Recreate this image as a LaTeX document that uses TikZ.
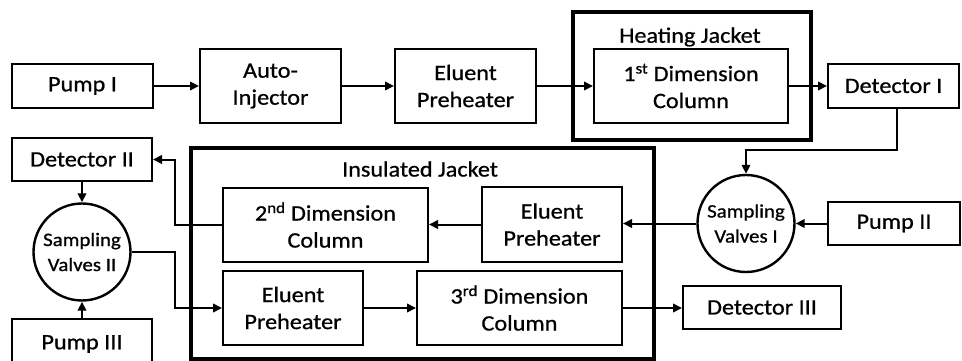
\documentclass[tikz,border=0pt]{standalone}
\usepackage{fontspec}
\setmainfont{Carlito}[FakeStretch=1.1,FakeBold=0.8]
\usetikzlibrary{arrows.meta}
\begin{document}
\begin{tikzpicture}[x=1pt,y=-1pt,
  box/.style={draw, line width=2pt, inner sep=0pt, align=center,
    font=\fontsize{22}{27}\selectfont},
  valve/.style={draw, circle, line width=2.4pt, inner sep=0pt, minimum size=97pt,
    align=center, font=\fontsize{19}{25}\selectfont},
  jacket/.style={draw, line width=3.8pt},
  jlabel/.style={font=\fontsize{22}{27}\selectfont, inner sep=0pt},
  arr/.style={line width=2pt, -{Triangle[length=9pt,width=8.5pt]}}]
\useasboundingbox (0,0) rectangle (962,361);
% jackets
\draw[jacket] (573,12) rectangle (811,140);
\node[jlabel] (hjl) at (690,37) {Heating Jacket};
\draw[jacket] (191,148) rectangle (654,359);
\node[jlabel] (ijl) at (420,169) {Insulated Jacket};
% top row
\node[box, minimum width=141pt, minimum height=44pt] (pump1) at (82.5,86) {Pump I};
\node[box, minimum width=141pt, minimum height=74pt] (inj) at (270.5,86) {Auto-\\Injector};
\node[box, minimum width=141pt, minimum height=74pt] (ep1) at (465.5,86) {Eluent\\Preheater};
\node[box, minimum width=194pt, minimum height=74pt] (dim1) at (691,86) {1\textsuperscript{st} Dimension\\Column};
\node[box, minimum width=131pt, minimum height=44pt] (det1) at (893.5,86) {Detector I};
% left column
\node[box, minimum width=140pt, minimum height=43pt] (det2) at (82,159.5) {Detector II};
\node[valve] (sv2) at (82,252) {Sampling\\Valves II};
\node[box, minimum width=140pt, minimum height=50pt] (pump3) at (82,344) {Pump III};
% insulated jacket contents
\node[box, minimum width=205pt, minimum height=74pt] (dim2) at (325.5,225) {2\textsuperscript{nd} Dimension\\Column};
\node[box, minimum width=140pt, minimum height=75pt] (ep2) at (552,224.5) {Eluent\\Preheater};
\node[box, minimum width=140pt, minimum height=74pt] (ep3) at (293,308) {Eluent\\Preheater};
\node[box, minimum width=205pt, minimum height=74pt] (dim3) at (519.5,308) {3\textsuperscript{rd} Dimension\\Column};
% right side
\node[valve] (sv1) at (746,223.5) {Sampling\\Valves I};
\node[box, minimum width=132pt, minimum height=43pt] (pump2) at (894,223.5) {Pump II};
\node[box, minimum width=158pt, minimum height=43pt] (det3) at (762,307.5) {Detector III};
% connectors
\draw[arr] (pump1) -- (inj);
\draw[arr] (inj) -- (ep1);
\draw[arr] (ep1) -- (dim1);
\draw[arr] (dim1) -- (det1);
\coordinate (k1) at (746,150);
\draw[arr] ([xshift=3pt]det1.south) |- (k1) -- (sv1.north);
\draw[arr] (pump2.west) -- (sv1.east);
\draw[arr] (sv1.west) -- (ep2.east |- sv1.west);
\draw[arr] (ep2.west) -- (dim2.east |- ep2.west);
\coordinate (k2) at (175,159.5);
\draw[arr] (dim2.west) -| (k2) -- (det2.east);
\draw[arr] (det2.south) -- (sv2.north);
\draw[arr] (pump3.north) -- (sv2.south);
\coordinate (k3) at (175,252);
\draw[arr] (sv2.east) -- (k3) |- (ep3.west);
\draw[arr] (ep3) -- (dim3);
\draw[arr] (dim3.east) -- (det3.west |- dim3.east);
\end{tikzpicture}
\end{document}
